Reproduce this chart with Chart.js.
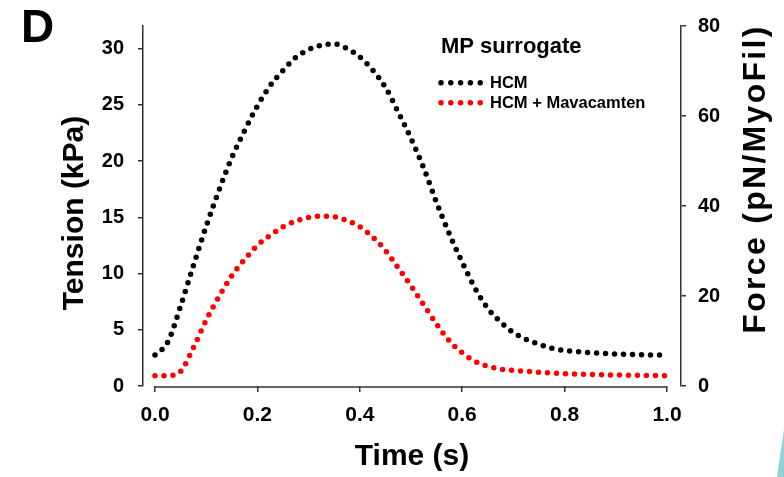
<!DOCTYPE html>
<html>
<head>
<meta charset="utf-8">
<title>MP surrogate</title>
<style>
  html, body { margin: 0; padding: 0; background: #fff; }
  #wrap { position: relative; width: 784px; height: 477px; }
  #corner {
    position: absolute; right: 0; bottom: 0; width: 7px; height: 48px;
    background: #8fd0d8; clip-path: polygon(0 100%, 100% 0, 100% 100%);
  }
</style>
</head>
<body>
<div id="wrap">
  <canvas id="chart" width="784" height="477"></canvas>
  <div id="corner"></div>
</div>
<script src="https://cdn.jsdelivr.net/npm/chart.js@4"></script>
<script>
// time grid (s)
const timeS = [0, 0.025, 0.05, 0.075, 0.1, 0.125, 0.15, 0.175, 0.2, 0.225,
  0.25, 0.275, 0.3, 0.325, 0.35, 0.375, 0.4, 0.425, 0.45, 0.475,
  0.5, 0.525, 0.55, 0.575, 0.6, 0.625, 0.65, 0.675, 0.7, 0.725,
  0.75, 0.775, 0.8, 0.825, 0.85, 0.875, 0.9, 0.925, 0.95, 0.975, 1.0]

// tension (kPa)
const hcmTension = [2.75, 3.9, 7.1, 10.7, 14.2, 17.4, 20.3, 22.7, 24.9, 26.7,
  28.05, 29.2, 29.9, 30.3, 30.4, 30.0, 29.25, 28.1, 26.55, 24.35,
  22.0, 19.35, 16.3, 13.5, 11.0, 8.7, 6.9, 5.7, 4.75, 4.15,
  3.7, 3.35, 3.15, 3.05, 2.97, 2.9, 2.85, 2.8, 2.78, 2.76, 2.75]

const mavaTension = [0.92, 0.92, 1.3, 3.4, 5.85, 7.95, 9.8, 11.25, 12.5, 13.4,
  14.15, 14.65, 14.97, 15.1, 15.05, 14.7, 14.15, 13.25, 12.05, 10.5,
  8.9, 7.2, 5.5, 4.0, 2.95, 2.2, 1.75, 1.5, 1.38, 1.3,
  1.22, 1.16, 1.1, 1.06, 1.03, 1.0, 0.98, 0.96, 0.94, 0.93, 0.92]

const seriesNames = ['HCM', 'HCM + Mavacamten']
const seriesColors = ['#000000', '#ff0000']
const legendTitle = 'MP surrogate'

const timeTicks = [0, 0.2, 0.4, 0.6, 0.8, 1.0]
const tensionTicks = [0, 5, 10, 15, 20, 25, 30]
const forceTicks = [0, 20, 40, 60, 80]

const axisColor = '#333333'
const fontFamily = '"Liberation Sans", Arial, sans-serif'
const dotDash = [0, 9]
const dotSize = 5.5

const toPoints = (ys) => ys.map((y, i) => ({ x: timeS[i], y }))

const drawRotated = (ctx, text, x, y, size, spacing) => {
  ctx.save()
  ctx.translate(x, y)
  ctx.rotate(-Math.PI / 2)
  ctx.font = `bold ${size}px ${fontFamily}`
  ctx.letterSpacing = spacing || '0px'
  ctx.fillStyle = '#000'
  ctx.textAlign = 'center'
  ctx.textBaseline = 'alphabetic'
  ctx.fillText(text, 0, 0)
  ctx.restore()
}

const extras = {
  id: 'extras',
  afterDraw(chart) {
    const { ctx, chartArea, scales } = chart
    const x = scales.x

    ctx.save()
    // x axis line, only between first and last tick
    ctx.strokeStyle = axisColor
    ctx.lineWidth = 1.5
    ctx.beginPath()
    ctx.moveTo(x.getPixelForValue(timeTicks[0]), chartArea.bottom + 1)
    ctx.lineTo(x.getPixelForValue(timeTicks[timeTicks.length - 1]), chartArea.bottom + 1)
    ctx.stroke()

    // axis titles on the sides
    drawRotated(ctx, 'Tension (kPa)', 83, 213, 30)
    drawRotated(ctx, 'Force (pN/MyoFil)', 765, 179, 32, '2.3px')

    // panel letter
    ctx.fillStyle = '#000'
    ctx.textAlign = 'left'
    ctx.textBaseline = 'alphabetic'
    ctx.font = `bold 46px ${fontFamily}`
    ctx.fillText('D', 21, 42)

    // legend
    ctx.font = `bold 22px ${fontFamily}`
    ctx.fillText(legendTitle, 441, 52.5)
    ctx.font = `bold 16.5px ${fontFamily}`
    seriesNames.forEach((name, i) => {
      const yy = 82.7 + i * 20
      ctx.save()
      ctx.strokeStyle = seriesColors[i]
      ctx.lineWidth = dotSize
      ctx.lineCap = 'round'
      ctx.setLineDash([0, 9.8])
      ctx.beginPath()
      ctx.moveTo(441, yy)
      ctx.lineTo(481, yy)
      ctx.stroke()
      ctx.restore()
      ctx.fillStyle = '#000'
      ctx.fillText(name, 490, yy + 5.6)
    })
    ctx.restore()
  }
}

const tickFont = (size) => ({ family: fontFamily, size, weight: 'bold' })

const lineSet = (i, values) => ({
  label: seriesNames[i],
  data: toPoints(values),
  borderColor: seriesColors[i],
  borderWidth: dotSize,
  borderDash: dotDash,
  borderCapStyle: 'round',
  pointRadius: 0,
  cubicInterpolationMode: 'monotone',
  fill: false,
  yAxisID: 'y'
})

const chart = new Chart(document.getElementById('chart'), {
  type: 'line',
  data: {
    datasets: [lineSet(0, hcmTension), lineSet(1, mavaTension)]
  },
  options: {
    responsive: false,
    animation: false,
    devicePixelRatio: 1,
    layout: { padding: { top: 26, left: 0, right: 0, bottom: 0 } },
    plugins: {
      legend: { display: false },
      tooltip: { enabled: false }
    },
    scales: {
      x: {
        type: 'linear',
        min: -0.0234,
        max: 1.0273,
        afterBuildTicks: (axis) => { axis.ticks = timeTicks.map(v => ({ value: v })) },
        afterFit: (scale) => { scale.height = 91 },
        ticks: {
          color: '#000',
          font: tickFont(21),
          padding: 11,
          maxRotation: 0,
          callback: (v) => Number(v).toFixed(1)
        },
        grid: { drawOnChartArea: false, drawTicks: true, tickLength: 6, color: axisColor, lineWidth: 1.5 },
        border: { display: false },
        title: {
          display: true,
          text: 'Time (s)',
          color: '#000',
          font: { family: fontFamily, size: 30, weight: 'bold' },
          padding: { top: 0, bottom: 2.4 }
        }
      },
      y: {
        type: 'linear',
        position: 'left',
        min: 0,
        max: 32,
        afterBuildTicks: (axis) => { axis.ticks = tensionTicks.map(v => ({ value: v })) },
        afterFit: (scale) => { scale.width = 143 },
        ticks: { color: '#000', font: tickFont(20), padding: 14 },
        grid: { drawOnChartArea: false, drawTicks: true, tickLength: 5, color: axisColor, lineWidth: 1.5 },
        border: { display: true, color: axisColor, width: 1.5 }
      },
      y1: {
        type: 'linear',
        position: 'right',
        min: 0,
        max: 80,
        afterBuildTicks: (axis) => { axis.ticks = forceTicks.map(v => ({ value: v })) },
        afterFit: (scale) => { scale.width = 103 },
        ticks: { color: '#000', font: tickFont(20), padding: 12 },
        grid: { drawOnChartArea: false, drawTicks: true, tickLength: 5, color: axisColor, lineWidth: 1.5 },
        border: { display: true, color: axisColor, width: 1.5 }
      }
    }
  },
  plugins: [extras]
})
</script>
</body>
</html>
